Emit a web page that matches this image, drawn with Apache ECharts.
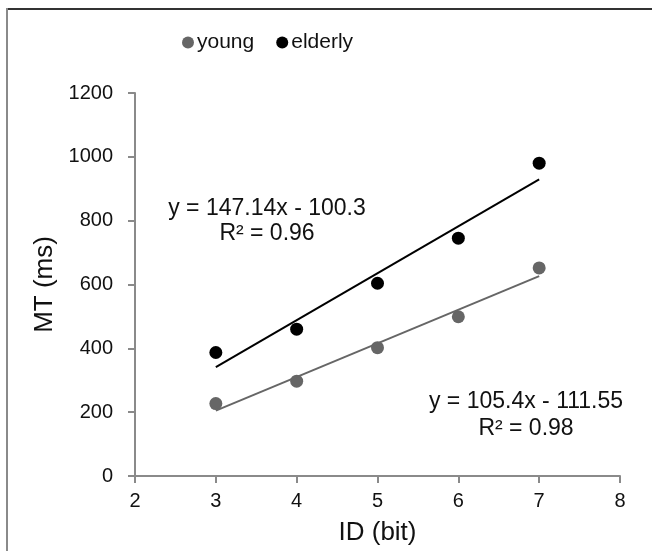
<!DOCTYPE html>
<html>
<head>
<meta charset="utf-8">
<script src="https://cdn.jsdelivr.net/npm/echarts@6/dist/echarts.min.js"></script>
<style>
html,body{margin:0;padding:0;background:#fff;}
#chart{width:652px;height:551px;}
</style>
</head>
<body>
<div id="chart"></div>
<script>
var xTicks = [2, 3, 4, 5, 6, 7, 8];
var yTicks = [0, 200, 400, 600, 800, 1000, 1200];
var idBits = [3, 4, 5, 6, 7];
var youngMT = [227, 297, 402, 499, 652];
var elderlyMT = [387, 460, 604, 745, 980];
var youngFit = {slope: 105.4, intercept: -111.55, r2: 0.98};
var elderlyFit = {slope: 147.14, intercept: -100.3, r2: 0.96};

var FONT = '"Liberation Sans", Arial, sans-serif';
function pts(xs, ys){ return xs.map(function(x,i){ return [x, ys[i]]; }); }
function fitLine(xs, f){
  var a = Math.min.apply(null, xs), b = Math.max.apply(null, xs);
  return [[a, f.slope*a + f.intercept], [b, f.slope*b + f.intercept]];
}
function eqText(f){
  var sign = f.intercept < 0 ? ' - ' : ' + ';
  return 'y = ' + f.slope + 'x' + sign + Math.abs(f.intercept) + '\nR² = ' + f.r2.toFixed(2);
}

var chart = echarts.init(document.getElementById('chart'), null, {renderer:'canvas'});
chart.setOption({
  animation: false,
  backgroundColor: '#fff',
  textStyle: {fontFamily: FONT},
  legend: {
    data: ['young', 'elderly'],
    left: 177, top: 27,
    icon: 'circle', itemWidth: 12, itemHeight: 12, itemGap: 22,
    textStyle: {fontSize: 21, color: '#111', fontFamily: FONT, padding: [0,0,0,-2]}
  },
  grid: {left: 135, right: 32, top: 93, bottom: 75},
  xAxis: {
    type: 'value', min: xTicks[0], max: xTicks[xTicks.length-1], interval: 1,
    name: 'ID (bit)', nameLocation: 'middle', nameGap: 44,
    nameTextStyle: {fontSize: 26, color: '#111', fontFamily: FONT},
    axisLine: {show: true, lineStyle: {color: '#8a8a8a', width: 2}},
    axisTick: {show: true, inside: false, length: 7, lineStyle: {color: '#8a8a8a', width: 2}},
    axisLabel: {fontSize: 20, color: '#111', margin: 15, fontFamily: FONT,
      formatter: function(v){ return String(v); }},
    splitLine: {show: false}
  },
  yAxis: {
    type: 'value', min: yTicks[0], max: yTicks[yTicks.length-1], interval: 200,
    name: 'MT (ms)', nameLocation: 'middle', nameGap: 77, nameRotate: 90,
    nameTextStyle: {fontSize: 26, color: '#111', fontFamily: FONT},
    axisLine: {show: true, lineStyle: {color: '#8a8a8a', width: 2}},
    axisTick: {show: true, inside: false, length: 7, lineStyle: {color: '#8a8a8a', width: 2}},
    axisLabel: {fontSize: 20, color: '#111', margin: 22, fontFamily: FONT,
      formatter: function(v){ return String(v); }},
    splitLine: {show: false}
  },
  series: [
    {name: 'young', type: 'scatter', data: pts(idBits, youngMT), symbol: 'circle', symbolSize: 13,
     itemStyle: {color: '#666666', opacity: 1}, z: 2},
    {name: 'elderly', type: 'scatter', data: pts(idBits, elderlyMT), symbol: 'circle', symbolSize: 13,
     itemStyle: {color: '#000000', opacity: 1}, z: 2},
    {name: 'youngTrend', type: 'line', data: fitLine(idBits, youngFit), symbol: 'none',
     lineStyle: {color: '#666666', width: 2}, z: 3, silent: true},
    {name: 'elderlyTrend', type: 'line', data: fitLine(idBits, elderlyFit), symbol: 'none',
     lineStyle: {color: '#000000', width: 2}, z: 3, silent: true}
  ],
  graphic: [
    {type: 'line', shape: {x1: 6, y1: 9, x2: 652, y2: 9}, style: {stroke: '#333', lineWidth: 2}, z: 10},
    {type: 'line', shape: {x1: 7, y1: 8, x2: 7, y2: 551}, style: {stroke: '#8a8a8a', lineWidth: 2}, z: 10},
    {type: 'text', x: 267, y: 221, style: {text: eqText(elderlyFit), fontSize: 23, fontFamily: FONT,
      fill: '#111', align: 'center', verticalAlign: 'middle', lineHeight: 25}, z: 5},
    {type: 'text', x: 526, y: 415, style: {text: eqText(youngFit), fontSize: 23, fontFamily: FONT,
      fill: '#111', align: 'center', verticalAlign: 'middle', lineHeight: 27}, z: 5}
  ]
});
</script>
</body>
</html>
